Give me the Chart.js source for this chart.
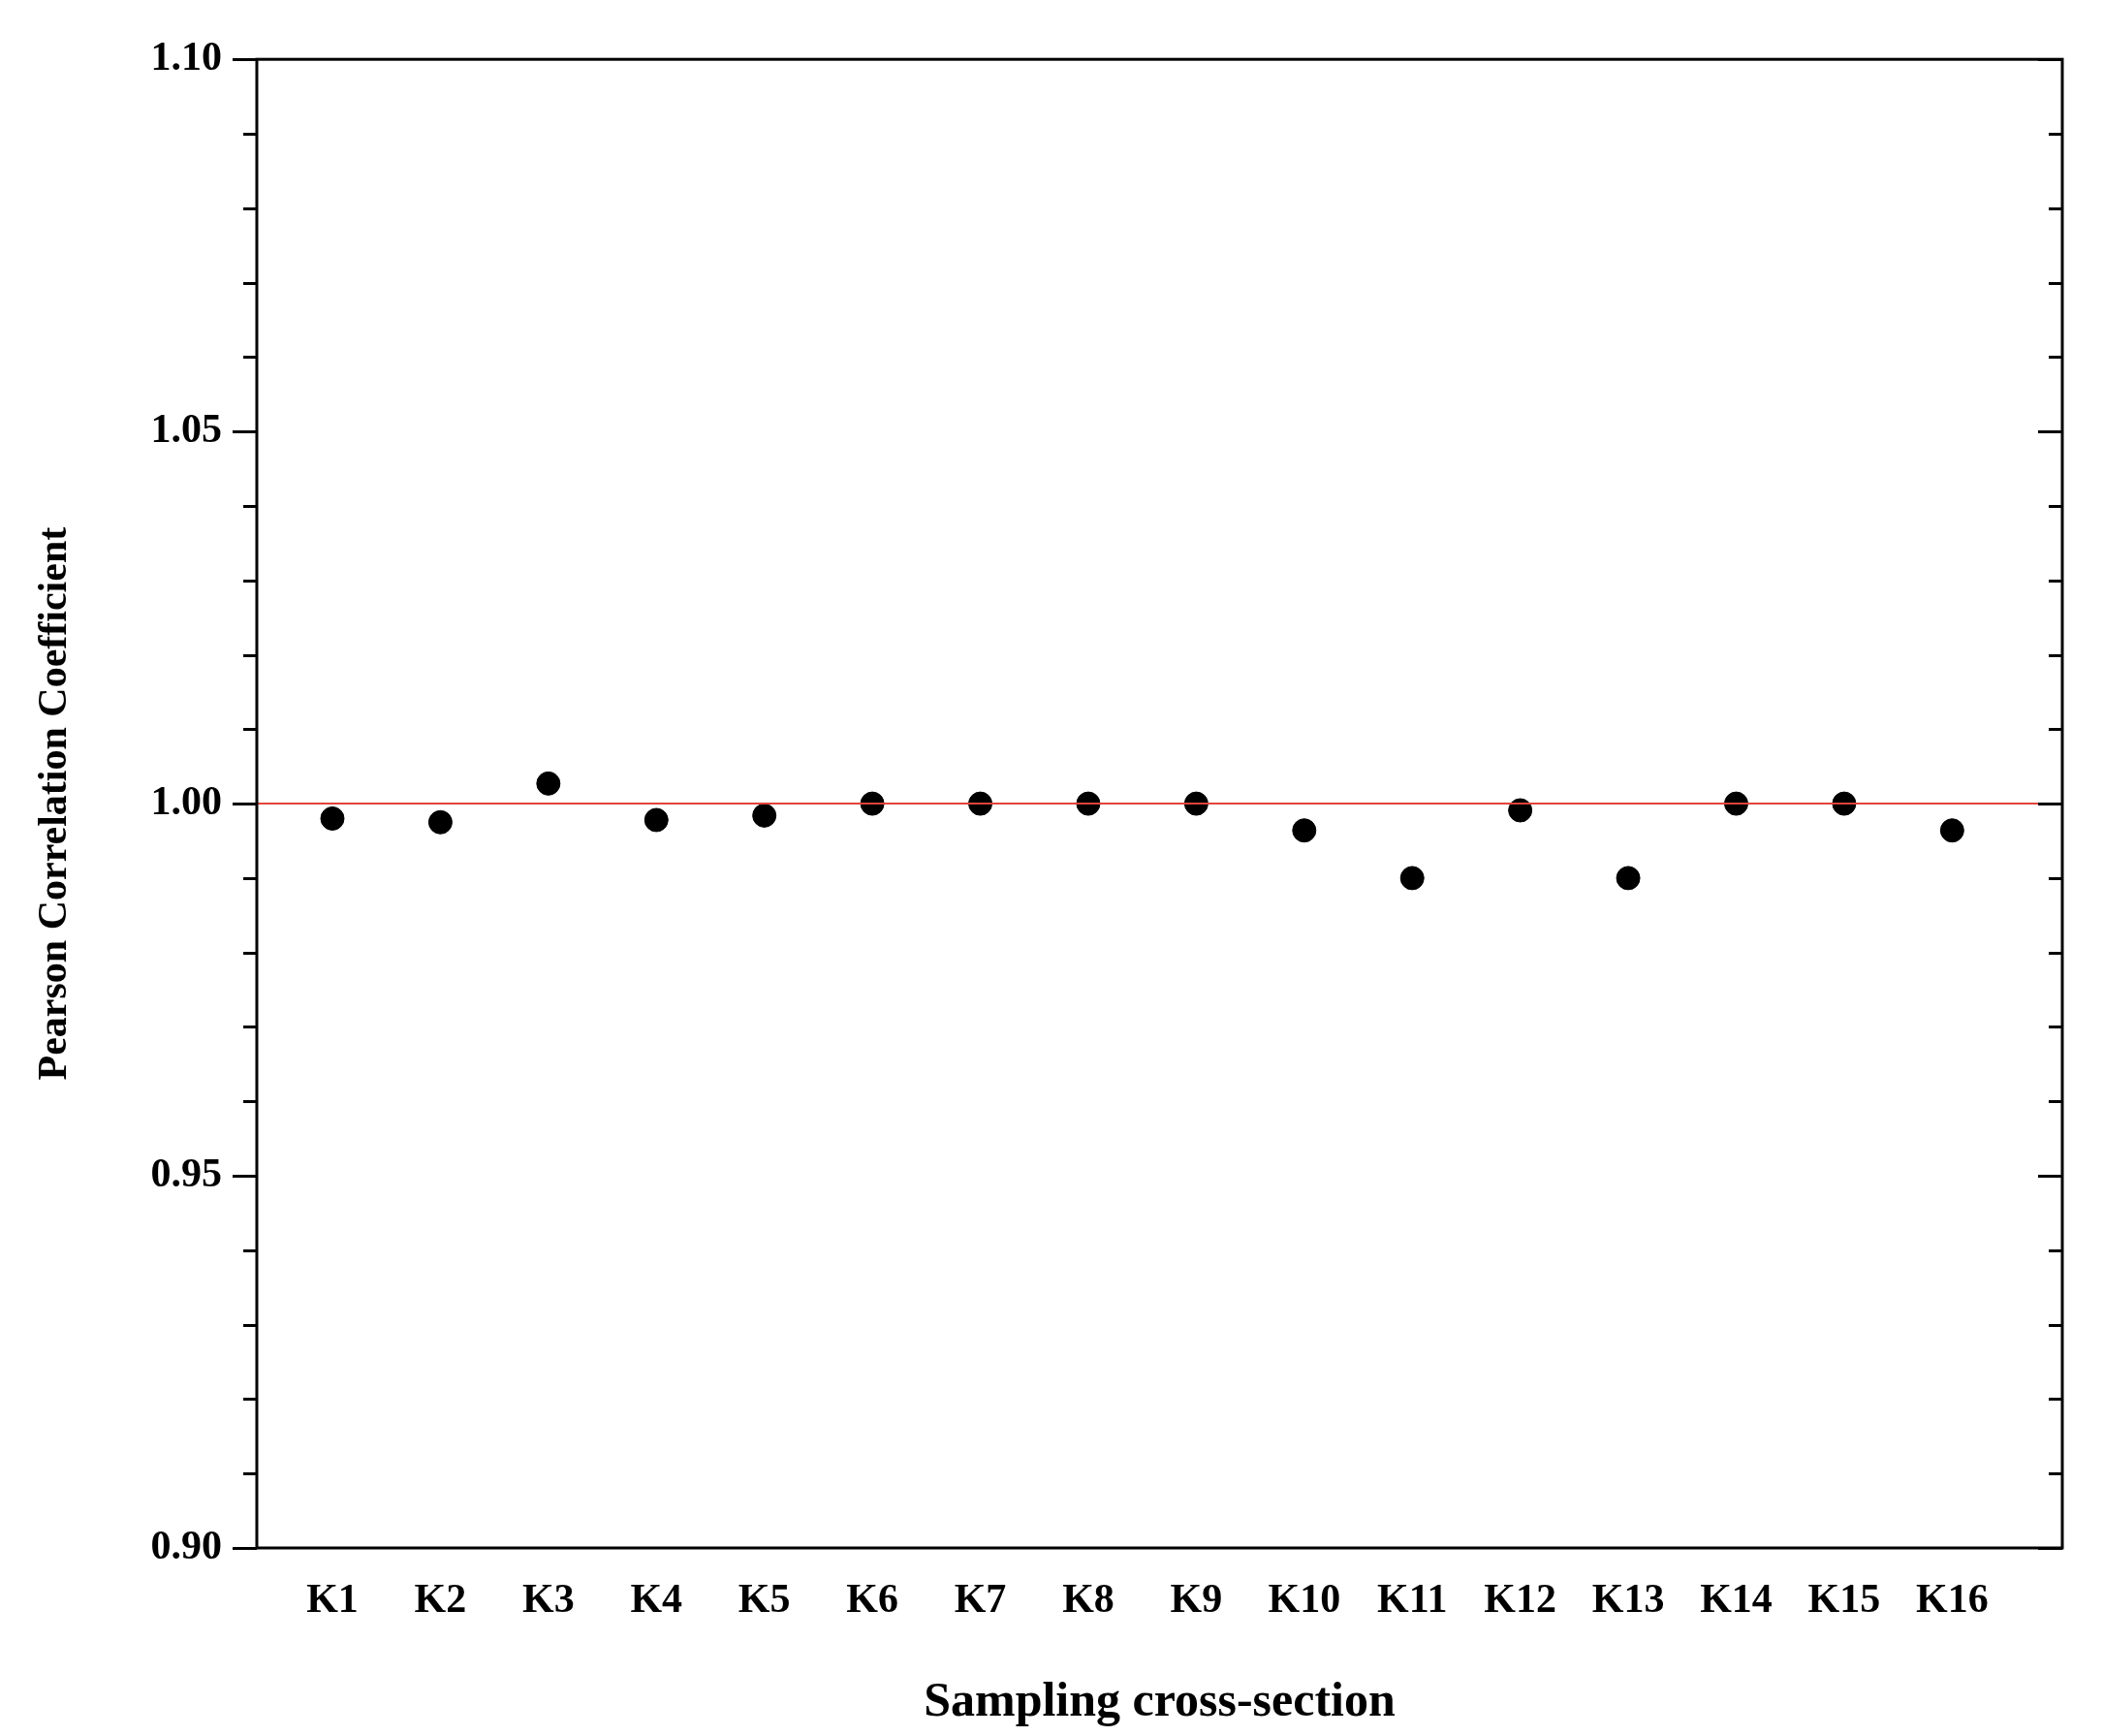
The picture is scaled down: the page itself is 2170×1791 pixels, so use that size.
<!DOCTYPE html>
<html lang="en">
<head>
    <meta charset="UTF-8">
    <title>Pearson Correlation Coefficient</title>
    <style>
        * { margin: 0; padding: 0; }
        body { background: #FFFFFF; width: 2170px; height: 1791px; overflow: hidden; }
    </style>
</head>
<body>
    <canvas id="chart" width="2170" height="1791"></canvas>

    <script src="https://cdn.jsdelivr.net/npm/chart.js@4/dist/chart.umd.min.js"></script>
    <script>
        const sections = ['K1', 'K2', 'K3', 'K4', 'K5', 'K6', 'K7', 'K8', 'K9', 'K10', 'K11', 'K12', 'K13', 'K14', 'K15', 'K16'];
        const pearson = [0.998, 0.9975, 1.0027, 0.9978, 0.9984, 1.000, 1.000, 1.000, 1.000, 0.9964, 0.990, 0.9991, 0.990, 1.000, 1.000, 0.9964];
        const refLevel = 1.0;
        const xRange = [0.3, 17.02];
        const yRange = [0.90, 1.10];

        const font = 'Liberation Serif';

        // minor/major ticks on the y axes (outside on left, inside on right)
        const tickPlugin = {
            id: 'ticks',
            afterDraw(chart) {
                const { ctx, chartArea: a, scales: { y } } = chart;
                ctx.save();
                ctx.strokeStyle = '#000';
                ctx.lineWidth = 3;
                for (let i = 0; i <= 20; i++) {
                    const v = yRange[0] + i * 0.01;
                    const py = Math.round(y.getPixelForValue(v)) + 0.5;
                    const len = i % 5 === 0 ? 25 : 14;
                    ctx.beginPath();
                    ctx.moveTo(a.left - len, py); ctx.lineTo(a.left, py);
                    ctx.moveTo(a.right - len, py); ctx.lineTo(a.right, py);
                    ctx.stroke();
                }
                ctx.strokeRect(a.left, a.top, a.right - a.left, a.bottom - a.top);
                ctx.restore();
            }
        };

        new Chart(document.getElementById('chart'), {
            type: 'scatter',
            data: {
                datasets: [
                    {
                        type: 'line',
                        data: xRange.map(x => ({ x, y: refLevel })),
                        borderColor: '#E0453A',
                        borderWidth: 2,
                        pointRadius: 0
                    },
                    {
                        data: pearson.map((v, i) => ({ x: i + 1, y: v })),
                        backgroundColor: '#000',
                        borderColor: '#000',
                        pointRadius: 12
                    }
                ]
            },
            options: {
                responsive: false,
                animation: false,
                layout: { padding: { top: 45, right: 42, left: 28, bottom: 0 } },
                plugins: { legend: { display: false }, tooltip: { enabled: false } },
                scales: {
                    x: {
                        type: 'linear', min: xRange[0], max: xRange[1],
                        afterBuildTicks: s => { s.ticks = sections.map((_, i) => ({ value: i + 1 })); },
                        afterFit: s => { s.height = 194; },
                        grid: { display: false, drawTicks: false },
                        border: { display: false },
                        ticks: {
                            autoSkip: false, maxRotation: 0, padding: 30, color: '#000',
                            font: { family: font, size: 42, weight: 'bold' },
                            callback: v => sections[v - 1]
                        },
                        title: {
                            display: true, text: 'Sampling cross-section', color: '#000',
                            font: { family: font, size: 50, weight: 'bold' }, padding: { top: 6 }
                        }
                    },
                    y: {
                        min: yRange[0], max: yRange[1],
                        afterBuildTicks: s => { s.ticks = [0.90, 0.95, 1.00, 1.05, 1.10].map(value => ({ value })); },
                        afterFit: s => { s.width = 237; },
                        grid: { display: false, drawTicks: false },
                        border: { display: false },
                        ticks: {
                            padding: 36, color: '#000',
                            font: { family: font, size: 42, weight: 'bold' },
                            callback: v => v.toFixed(2)
                        },
                        title: {
                            display: true, text: 'Pearson Correlation Coefficient', color: '#000',
                            font: { family: font, size: 42, weight: 'bold' }, padding: { bottom: 10 }
                        }
                    }
                }
            },
            plugins: [tickPlugin]
        });
    </script>
</body>
</html>
